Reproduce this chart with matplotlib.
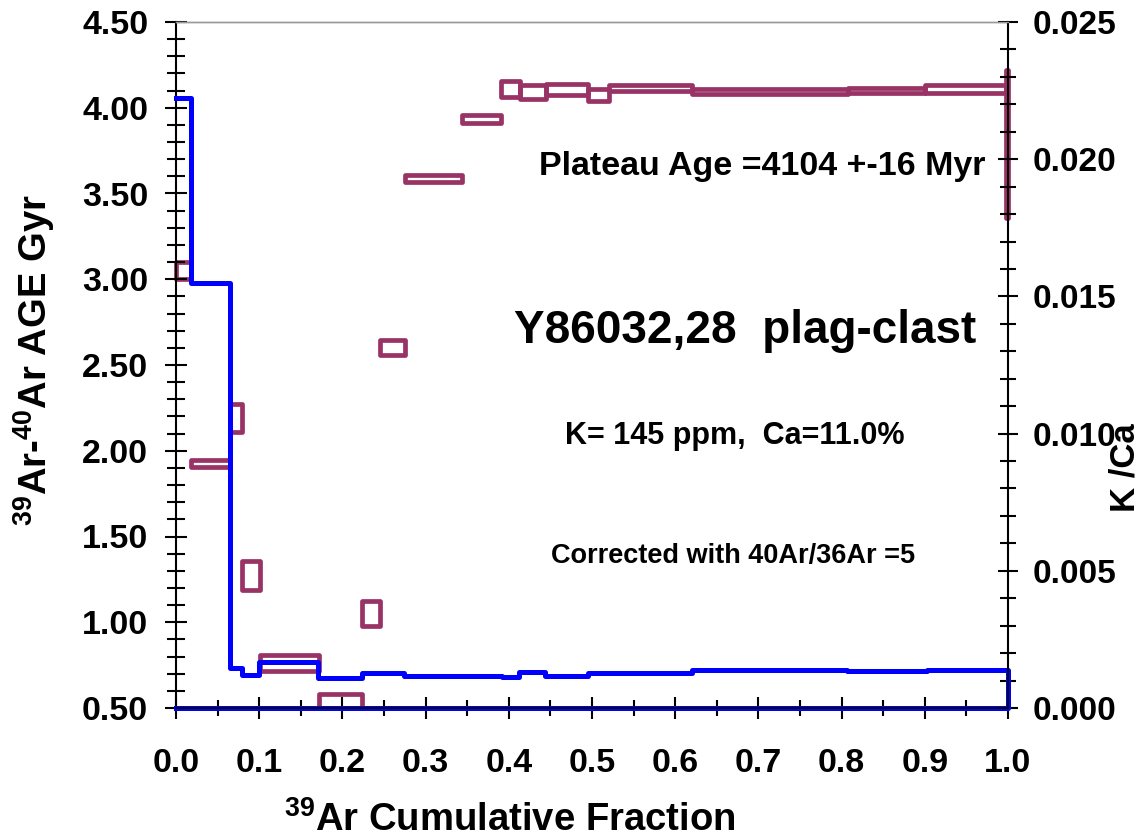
import matplotlib
matplotlib.use('Agg')
import matplotlib.pyplot as plt
from matplotlib.patches import Rectangle
from matplotlib.ticker import MultipleLocator, FormatStrFormatter
import numpy as np

plt.rcParams['font.family'] = ['Liberation Sans', 'DejaVu Sans']
plt.rcParams['font.weight'] = 'bold'
plt.rcParams['mathtext.fontset'] = 'custom'
plt.rcParams['mathtext.rm'] = 'Liberation Sans:bold'
plt.rcParams['mathtext.bf'] = 'Liberation Sans:bold'

# age spectrum: 39Ar cumulative fraction (start, end) and age range in Gyr
frac_lo = [0.000, 0.018, 0.065, 0.079, 0.101, 0.172, 0.224, 0.245, 0.275, 0.344,
           0.391, 0.414, 0.445, 0.495, 0.520, 0.620, 0.808, 0.900, 0.9975]
frac_hi = [0.018, 0.065, 0.079, 0.101, 0.172, 0.224, 0.245, 0.275, 0.344, 0.391,
           0.414, 0.445, 0.495, 0.520, 0.620, 0.808, 0.900, 0.9975, 1.000]
age_lo = [3.00, 1.905, 2.11, 1.19, 0.716, 0.50, 0.98, 2.558, 3.567, 3.911,
          4.063, 4.051, 4.074, 4.040, 4.098, 4.082, 4.084, 4.086, 3.357]
age_hi = [3.10, 1.946, 2.27, 1.36, 0.809, 0.582, 1.124, 2.646, 3.608, 3.958,
          4.156, 4.133, 4.138, 4.109, 4.133, 4.110, 4.114, 4.133, 4.220]

# K/Ca steps
kca_edges = [0.0, 0.0177, 0.065, 0.079, 0.100, 0.171, 0.224, 0.2746, 0.392,
             0.412, 0.444, 0.495, 0.620, 0.807, 0.903, 1.0]
kca = [0.02223, 0.01549, 0.00146, 0.00120, 0.00168, 0.00109, 0.001265, 0.00118,
       0.00114, 0.00132, 0.00117, 0.00129, 0.00138, 0.00135, 0.00138]

plum = '#993366'

fig = plt.figure(figsize=(11.46, 8.38), dpi=100)
ax = fig.add_axes([176/1146, 130/838, 832/1146, 686/838])
ax2 = ax.twinx()

for x0, x1, a0, a1 in zip(frac_lo, frac_hi, age_lo, age_hi):
    ax.add_patch(Rectangle((x0, a0), x1 - x0, a1 - a0, fill=False,
                           edgecolor=plum, lw=3.4, joinstyle='round',
                           clip_on=False))

# step outline across the steps, then down the right edge and back along the bottom
e = np.array(kca_edges)
v = np.array(kca)
xs = np.concatenate([np.repeat(e, 2)[1:-1], [1.0, 0.0]])
ys = np.concatenate([np.repeat(v, 2), [0.0, 0.0]])
ax2.plot(xs, ys, color='#0000ff', lw=3.6, solid_joinstyle='round', clip_on=False)

ax.set_xlim(0, 1.0)
ax.set_ylim(0.5, 4.5)
ax2.set_ylim(0, 0.025)

ax.xaxis.set_major_locator(MultipleLocator(0.1))
ax.xaxis.set_minor_locator(MultipleLocator(0.05))
ax.yaxis.set_major_locator(MultipleLocator(0.5))
ax.yaxis.set_minor_locator(MultipleLocator(0.1))
ax2.yaxis.set_major_locator(MultipleLocator(0.005))
ax2.yaxis.set_minor_locator(MultipleLocator(0.001))
ax.xaxis.set_major_formatter(FormatStrFormatter('%.1f'))
ax.yaxis.set_major_formatter(FormatStrFormatter('%.2f'))
ax2.yaxis.set_major_formatter(FormatStrFormatter('%.3f'))

ax.tick_params(axis='x', which='major', direction='inout', length=16, width=1.5,
               labelsize=24.5, pad=21, top=False)
ax.tick_params(axis='x', which='minor', direction='inout', length=12, width=1.5, top=False)
ax.tick_params(axis='y', which='major', direction='inout', length=16, width=1.5,
               labelsize=24.5, pad=12, right=False)
ax.tick_params(axis='y', which='minor', direction='inout', length=13, width=1.5, right=False)
ax2.tick_params(axis='y', which='major', direction='inout', length=14, width=1.5,
                labelsize=24, pad=11)
ax2.tick_params(axis='y', which='minor', direction='inout', length=11, width=1.5)

for a in (ax, ax2):
    a.spines['top'].set_color('#999999')
    a.spines['top'].set_linewidth(1.0)
    a.spines['left'].set_linewidth(1.5)
    a.spines['right'].set_linewidth(1.5)
    a.spines['bottom'].set_linewidth(1.5)
ax.spines['right'].set_visible(False)
ax2.spines['left'].set_visible(False)

fig.text(34/1146, 1 - 360/838, r'$^{39}$Ar-$^{40}$Ar AGE Gyr', rotation=90,
         ha='center', va='center', fontsize=27.5)
fig.text(510/1146, 7/838, r'$^{39}$Ar Cumulative Fraction',
         ha='center', va='baseline', fontsize=27.5)
fig.text(1125/1146, 1 - 468/838, 'K /Ca', rotation=90,
         ha='center', va='center', fontsize=25)

ax.text(0.7045, 3.608, 'Plateau Age =4104 +-16 Myr', ha='center', va='baseline', fontsize=24.5)
ax.text(0.684, 2.628, 'Y86032,28  plag-clast', ha='center', va='baseline', fontsize=33)
ax.text(0.671, 2.039, 'K= 145 ppm,  Ca=11.0%', ha='center', va='baseline', fontsize=22)
ax.text(0.6695, 1.345, 'Corrected with 40Ar/36Ar =5', ha='center', va='baseline', fontsize=19.5)

fig.savefig('out.png', dpi=100)
